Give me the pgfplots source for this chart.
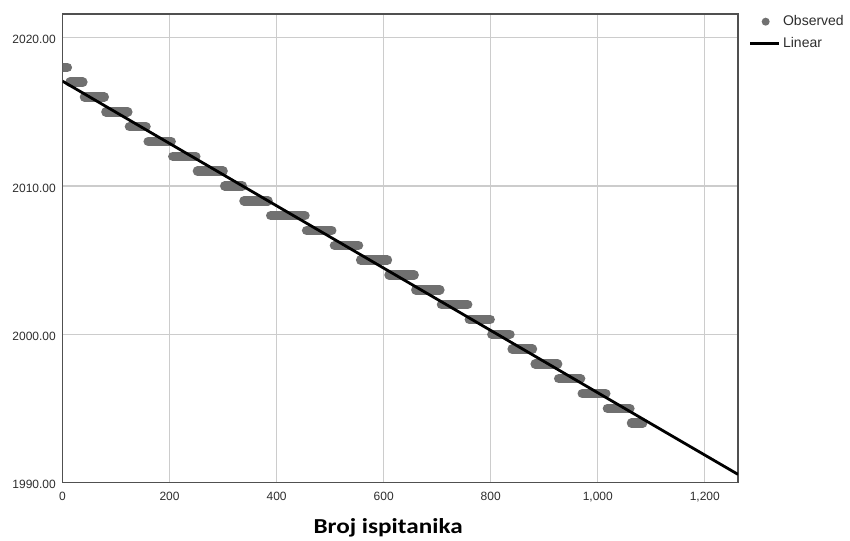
\documentclass[border=0pt]{standalone}
\usepackage{graphicx}
\usepackage{pgfplots}
\pgfplotsset{compat=1.18}
\usepackage{fontspec}
\setmainfont{Liberation Sans}
\newfontfamily\carlito{Carlito}
\definecolor{obs}{RGB}{112,112,112}
\definecolor{gridc}{RGB}{204,204,204}
\definecolor{framec}{RGB}{80,80,80}
\definecolor{txt}{RGB}{45,45,45}
\begin{document}
\begin{tikzpicture}
\path[use as bounding box] (-46.9pt,-43.1pt) rectangle (590.6pt,361.9pt);
\begin{axis}[
  at={(0,0)}, anchor=south west,
  scale only axis,
  width=506.6pt, height=351.4pt,
  xmin=0, xmax=1262, ymin=1990, ymax=2021.6,
  xtick={0,200,400,600,800,1000,1200},
  ytick={1990,2000,2010,2020},
  grid=major,
  major grid style={gridc, line width=0.8pt},
  axis line style={framec, line width=1.1pt},
  major tick length=0pt,
  /pgf/number format/assume math mode=true,
  x tick label style={/pgf/number format/1000 sep={,}, font=\fontsize{9}{10}\selectfont, text=txt, yshift=-3.5pt},
  y tick label style={/pgf/number format/fixed, /pgf/number format/fixed zerofill, /pgf/number format/precision=2, /pgf/number format/1000 sep={}, font=\fontsize{9}{10}\selectfont, text=txt, xshift=-1.5pt, yshift=-1.5pt},
  xlabel={\scalebox{1.18}[1]{Broj ispitanika}},
  x label style={at={(axis description cs:0.482,0)}, anchor=base, yshift=-37.9pt, font=\carlito\bfseries\fontsize{16}{18}\selectfont, text=black},
  unbounded coords=jump,
  legend style={at={(axis description cs:1,1)}, anchor=north west, xshift=8pt, yshift=0pt,
    draw=none, fill=none, inner sep=0pt, row sep=5pt, column sep=1pt,
    nodes={inner sep=1pt, text=txt}, font=\fontsize{10.5}{12}\selectfont},
  legend cell align=left,
]
\addplot[obs, line width=7.1pt, line cap=round, forget plot] coordinates {
(1,2018) (9,2018) (9,nan)
(14,2017) (38,2017) (38,nan)
(41,2016) (78,2016) (78,nan)
(81,2015) (122,2015) (122,nan)
(125,2014) (156,2014) (156,nan)
(160,2013) (203,2013) (203,nan)
(206,2012) (249,2012) (249,nan)
(252,2011) (300,2011) (300,nan)
(303,2010) (336,2010) (336,nan)
(339,2009) (384,2009) (384,nan)
(389,2008) (453,2008) (453,nan)
(456,2007) (503,2007) (503,nan)
(508,2006) (553,2006) (553,nan)
(557,2005) (607,2005) (607,nan)
(610,2004) (657,2004) (657,nan)
(660,2003) (705,2003) (705,nan)
(708,2002) (757,2002) (757,nan)
(760,2001) (799,2001) (799,nan)
(802,2000) (836,2000) (836,nan)
(840,1999) (878,1999) (878,nan)
(883,1998) (925,1998) (925,nan)
(927,1997) (968,1997) (968,nan)
(971,1996) (1015,1996) (1015,nan)
(1018,1995) (1060,1995) (1060,nan)
(1063,1994) (1084,1994)
};
\addlegendimage{draw=none, legend image code/.code={\path[draw=none, fill=none] (0pt,-1pt) rectangle (21.5pt,1pt); \fill[obs, draw=none] (11.5pt,0pt) circle (3pt);}}
\addlegendentry{Observed}
\addplot[black, line width=2.1pt, legend image code/.code={\draw[black, line width=2.1pt] (0pt,0pt) -- (21.5pt,0pt);}] coordinates {(0,2017.07) (1262,1990.55)};
\addlegendentry{Linear}
\end{axis}
\end{tikzpicture}
\end{document}
